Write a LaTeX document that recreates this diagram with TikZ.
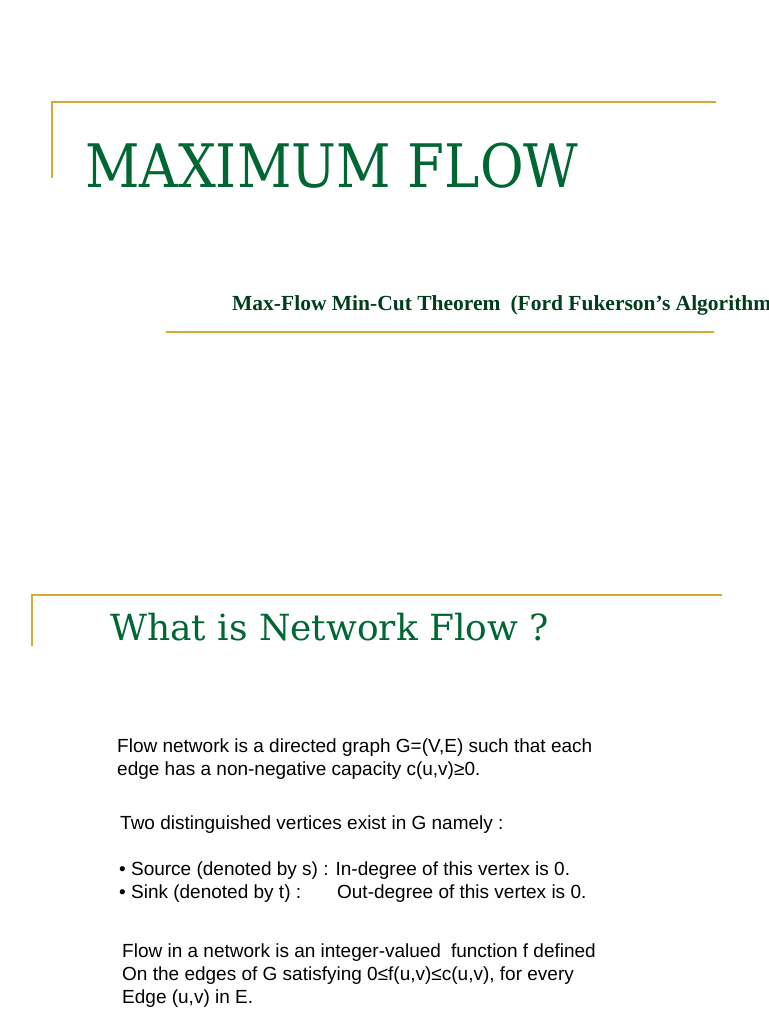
\documentclass[tikz,border=0pt]{standalone}
\usepackage{fontspec}
\setmainfont{Liberation Sans}
\newfontfamily\titlefont{DejaVu Serif}
\newfontfamily\subfont{Liberation Serif}
\begin{document}
\begin{tikzpicture}[x=1pt,y=-1pt]
\definecolor{gold}{HTML}{D4A937}
\definecolor{dkgreen}{HTML}{006633}
\tikzset{goldline/.style={draw=gold,line width=1.6pt},
 body/.style={anchor=base west,inner sep=0pt,font=\fontsize{19}{23}\selectfont}}
\useasboundingbox (0,0) rectangle (768,1024);
\clip (0,0) rectangle (768,1024);
\draw[goldline] (52,178) -- (52,102) -- (716,102);
\draw[goldline] (166,332) -- (714,332);
\node[anchor=base west,inner sep=0pt,text=dkgreen,xscale=0.887,font=\titlefont\fontsize{60}{60}\selectfont] (t1) at (85,188) {MAXIMUM FLOW};
\node[anchor=base west,inner sep=0pt,text=dkgreen!60!black,font=\subfont\bfseries\fontsize{21.5}{24}\selectfont] (t2) at (232,310) {Max-Flow Min-Cut Theorem\hspace{10pt}(Ford Fukerson’s Algorithm)};
\draw[goldline] (32,646) -- (32,595) -- (722,595);
\node[anchor=base west,inner sep=0pt,text=dkgreen,font=\titlefont\fontsize{36}{40}\selectfont] (t3) at (110,640) {What is Network Flow ?};
\node[body] (p1a) at (117,752) {Flow network is a directed graph G=(V,E) such that each};
\node[body] (p1b) at (117,775) {edge has a non-negative capacity c(u,v)≥0.};
\node[body] (p2) at (120,829) {Two distinguished vertices exist in G namely :};
\node[body] (p3a) at (119,875) {• Source (denoted by s) : In-degree of this vertex is 0.};
\node[body] (p3b) at (119,898) {• Sink (denoted by t) :\hspace{36pt}Out-degree of this vertex is 0.};
\node[body] (p4a) at (122,957) {Flow in a network is an integer-valued\hspace{10pt}function f defined};
\node[body] (p4b) at (122,980) {On the edges of G satisfying 0≤f(u,v)≤c(u,v), for every};
\node[body] (p4c) at (122,1003) {Edge (u,v) in E.};
\end{tikzpicture}
\end{document}
